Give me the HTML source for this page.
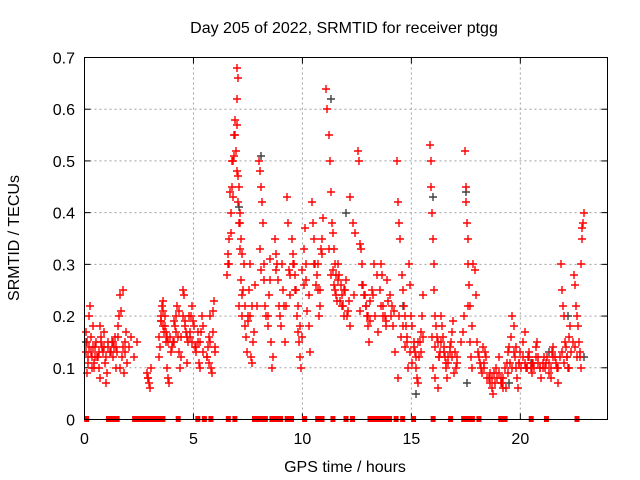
<!DOCTYPE html>
<html><head><meta charset="utf-8"><style>
body{margin:0;background:#fff}
svg{display:block;font-family:"Liberation Sans",sans-serif}
</style></head><body>
<svg id="chart" width="640" height="480" viewBox="0 0 640 480" xmlns="http://www.w3.org/2000/svg">
<rect width="640" height="480" fill="#fff"/>
<text x="344" y="33" font-size="16" text-anchor="middle">Day 205 of 2022, SRMTID for receiver ptgg</text>
<text transform="translate(19,238) rotate(-90)" font-size="16" text-anchor="middle">SRMTID / TECUs</text>
<text x="345" y="472" font-size="16" text-anchor="middle">GPS time / hours</text>
<g id="grid"></g>
<g id="ticks"></g>
<g id="marks"></g>
<rect x="84.5" y="57.5" width="523" height="362" fill="none" stroke="#000" stroke-width="1"/>
</svg>
<script>
const xTicks=[0,5,10,15,20];
const yTicks=[0,0.1,0.2,0.3,0.4,0.5,0.6,0.7];
const yTickLabels=["0","0.1","0.2","0.3","0.4","0.5","0.6","0.7"];
const redTimes=[
0.05,0.1,0.15,0.2,0.25,0.3,0.35,0.4,0.45,0.12,0.28,0.38,0.48,
0.55,0.6,0.65,0.7,0.75,0.8,0.85,0.9,0.95,1.0,1.05,1.1,1.15,0.72,
1.25,1.3,1.35,1.4,1.45,1.5,1.55,1.6,1.65,1.75,1.7,1.8,1.85,1.9,1.95,1.62,
2.05,2.15,2.25,2.4,
2.85,2.9,2.95,3.0,3.05,2.92,
3.4,3.45,3.5,3.55,3.6,3.65,3.7,3.75,3.8,3.85,3.9,3.95,3.5,3.62,3.78,
4.0,4.1,4.15,4.2,4.25,4.3,4.35,4.4,4.45,4.5,4.55,4.6,4.65,4.7,4.75,4.8,
4.85,4.9,4.95,5.0,5.05,5.1,5.2,5.25,5.3,5.35,5.4,5.45,
5.6,5.65,5.7,5.75,5.8,5.85,5.9,5.95,6.0,5.72,
6.55,6.6,6.65,6.7,6.75,6.8,6.85,6.9,6.95,7.0,7.05,7.1,7.15,7.2,7.25,6.62,6.72,6.82,6.88,6.98,7.02,7.05,7.0,7.08,7.12,7.18,7.22,7.28,7.3,7.1,
7.35,7.4,7.45,7.5,7.55,7.6,7.65,7.7,7.75,7.8,7.9,
8.0,8.05,8.1,8.15,8.2,8.25,8.3,8.35,8.4,8.45,8.5,8.55,8.6,8.65,8.05,
8.75,8.8,8.85,8.9,8.95,9.0,9.1,9.15,9.2,9.3,9.35,9.4,9.45,
9.5,9.55,9.6,9.65,9.7,9.75,9.8,9.85,9.9,9.95,10.0,10.05,10.1,10.15,10.2,10.3,10.35,
10.45,10.5,10.55,10.6,10.65,10.7,10.75,10.8,10.85,10.9,10.95,
11.1,11.15,11.2,11.25,11.3,11.35,11.4,11.45,11.5,11.55,11.45,11.5,11.6,
11.65,11.7,11.75,11.8,11.85,11.9,11.95,12.0,12.1,12.2,12.2,12.3,12.4,
12.55,12.6,12.65,12.7,12.75,12.8,12.85,12.9,12.95,13.0,13.05,13.1,13.2,13.3,13.4,13.45,
13.55,13.6,13.65,13.7,13.8,13.85,13.9,14.0,14.1,14.2,14.25,
14.35,14.4,14.45,14.5,14.55,14.6,14.65,14.7,14.75,14.8,14.85,14.4,14.9,14.95,
15.0,15.05,15.1,15.15,15.2,15.25,15.3,15.35,15.4,15.45,15.5,15.55,
15.85,15.88,15.9,15.95,16.0,16.02,16.05,16.1,16.15,16.2,16.25,16.0,16.1,16.2,16.3,15.95,
16.35,16.4,16.45,16.5,16.55,16.6,16.65,16.7,16.75,16.8,16.85,16.9,16.95,17.05,17.1,
17.45,17.5,17.52,17.55,17.6,17.62,17.65,17.7,17.4,17.35,17.3,17.75,17.8,
17.85,17.9,17.95,18.0,18.1,18.2,18.25,18.3,18.35,18.4,18.45,
18.55,18.6,18.7,18.75,18.8,18.9,19.0,19.1,19.15,19.2,19.3,19.4,19.45,
19.5,19.55,19.6,19.7,19.75,19.8,19.85,19.9,19.95,20.0,20.1,20.2,20.25,
20.35,20.4,20.5,20.55,20.6,20.7,20.75,20.8,20.9,20.95,
21.05,21.1,21.2,21.3,21.4,21.45,21.5,21.6,21.7,21.75,
21.85,21.9,21.95,22.0,22.05,22.1,22.15,22.2,22.25,22.3,
22.45,22.5,22.55,22.6,22.65,22.7,22.75,22.8,22.82,22.85,22.9,22.88,22.78,
0.08,0.18,0.22,0.33,0.42,0.5,0.58,0.68,0.78,0.88,0.98,1.08,1.2,1.33,1.43,1.53,1.68,1.78,1.88,
3.42,3.52,3.58,3.68,3.72,3.82,3.92,4.05,4.12,4.22,4.32,4.42,4.52,4.62,4.72,4.82,4.92,5.02,5.12,5.22,5.32,5.42,5.62,5.78,5.88,5.98,
6.58,6.68,6.78,6.92,7.03,7.14,7.24,7.38,7.48,7.58,7.68,7.82,8.12,8.22,8.42,8.52,8.78,8.92,9.05,9.25,9.42,9.58,9.68,9.78,9.88,9.98,10.08,10.18,10.28,10.52,10.62,10.72,10.82,10.92,
11.22,11.32,11.42,11.52,11.62,11.72,11.82,11.92,12.05,12.15,12.35,12.62,12.72,12.82,12.92,13.02,13.12,13.25,13.35,13.62,13.72,13.82,13.95,14.05,14.15,
14.42,14.52,14.62,14.72,14.82,14.92,15.02,15.12,15.22,15.32,15.42,15.52,16.08,16.18,16.28,16.38,16.48,16.58,16.68,16.78,16.88,16.98,17.08,17.58,17.68,17.78,
18.05,18.15,18.32,18.42,18.62,18.72,18.82,18.92,19.02,19.12,19.22,19.32,19.42,19.52,19.62,19.72,19.82,19.92,20.02,20.12,20.22,20.32,20.42,20.52,20.62,20.72,20.82,20.92,
21.02,21.12,21.22,21.32,21.42,21.52,21.62,21.72,21.82,21.92,22.02,22.12,22.22,22.32,22.42,22.52,22.62,22.72
];
const redValues=[
0.17,0.15,0.12,0.2,0.22,0.13,0.1,0.14,0.11,0.09,0.16,0.18,0.12,
0.15,0.12,0.1,0.08,0.16,0.14,0.13,0.17,0.11,0.07,0.09,0.15,0.13,0.18,
0.15,0.12,0.14,0.16,0.1,0.13,0.18,0.2,0.24,0.25,0.12,0.09,0.15,0.17,0.11,0.1,
0.14,0.16,0.12,0.15,
0.09,0.08,0.07,0.06,0.1,0.08,
0.12,0.14,0.2,0.22,0.23,0.17,0.18,0.15,0.1,0.08,0.07,0.13,0.19,0.21,0.16,
0.14,0.15,0.18,0.2,0.22,0.16,0.13,0.1,0.12,0.25,0.24,0.19,0.17,0.11,0.15,0.2,
0.16,0.2,0.22,0.19,0.14,0.13,0.15,0.11,0.1,0.17,0.2,0.18,
0.12,0.14,0.16,0.2,0.1,0.09,0.21,0.23,0.13,0.11,
0.28,0.3,0.35,0.4,0.45,0.5,0.55,0.58,0.52,0.48,0.42,0.38,0.33,0.27,0.24,0.3,0.36,0.43,0.51,0.62,0.68,0.66,0.57,0.45,0.4,0.35,0.2,0.25,0.3,0.22,
0.18,0.16,0.13,0.2,0.25,0.3,0.12,0.11,0.15,0.17,0.22,
0.5,0.48,0.45,0.42,0.38,0.3,0.22,0.2,0.18,0.24,0.27,0.15,0.1,0.12,0.33,
0.35,0.32,0.3,0.27,0.2,0.18,0.25,0.22,0.15,0.43,0.38,0.29,0.24,
0.35,0.32,0.3,0.28,0.25,0.2,0.17,0.15,0.12,0.1,0.29,0.33,0.37,0.27,0.21,0.18,0.13,
0.42,0.38,0.35,0.3,0.28,0.25,0.2,0.22,0.33,0.35,0.39,
0.64,0.6,0.55,0.5,0.44,0.38,0.36,0.33,0.3,0.28,0.26,0.25,0.23,
0.3,0.28,0.26,0.24,0.22,0.2,0.25,0.27,0.21,0.18,0.43,0.38,0.36,
0.52,0.5,0.34,0.33,0.3,0.26,0.24,0.22,0.2,0.18,0.15,0.23,0.25,0.3,0.28,0.17,
0.25,0.3,0.28,0.22,0.2,0.18,0.27,0.24,0.22,0.21,0.13,
0.5,0.42,0.38,0.35,0.28,0.25,0.22,0.2,0.18,0.15,0.1,0.08,0.3,0.26,
0.2,0.18,0.15,0.13,0.1,0.08,0.07,0.12,0.15,0.17,0.2,0.24,
0.53,0.5,0.45,0.4,0.35,0.3,0.25,0.2,0.18,0.15,0.12,0.1,0.08,0.06,0.13,0.16,
0.2,0.18,0.16,0.14,0.12,0.1,0.08,0.11,0.13,0.15,0.17,0.19,0.09,0.1,0.12,
0.52,0.45,0.42,0.38,0.35,0.3,0.26,0.22,0.2,0.17,0.15,0.12,0.1,
0.3,0.29,0.24,0.15,0.12,0.1,0.09,0.14,0.11,0.13,0.08,
0.08,0.07,0.06,0.05,0.09,0.1,0.12,0.08,0.07,0.06,0.1,0.11,0.13,
0.14,0.16,0.2,0.18,0.12,0.1,0.08,0.06,0.11,0.13,0.15,0.17,0.1,
0.12,0.13,0.1,0.09,0.11,0.14,0.15,0.12,0.1,0.08,
0.1,0.12,0.11,0.09,0.08,0.13,0.14,0.12,0.1,0.07,
0.3,0.25,0.22,0.2,0.15,0.14,0.12,0.1,0.16,0.18,
0.28,0.26,0.22,0.2,0.18,0.15,0.12,0.1,0.35,0.37,0.4,0.38,0.3,
0.13,0.11,0.14,0.12,0.1,0.14,0.12,0.13,0.15,0.14,0.12,0.14,0.13,0.15,0.14,0.16,0.21,0.14,0.13,
0.16,0.19,0.18,0.2,0.17,0.15,0.16,0.15,0.19,0.17,0.21,0.16,0.2,0.18,0.16,0.17,0.15,0.18,0.14,0.17,0.15,0.13,0.12,0.15,0.17,0.14,
0.32,0.44,0.5,0.55,0.47,0.38,0.32,0.22,0.19,0.2,0.22,0.26,0.29,0.27,0.2,0.31,0.29,0.22,0.3,0.22,0.28,0.3,0.25,0.22,0.18,0.16,0.26,0.3,0.24,0.3,0.26,0.3,0.25,0.32,
0.33,0.28,0.29,0.24,0.27,0.23,0.22,0.25,0.2,0.23,0.24,0.21,0.26,0.24,0.22,0.2,0.19,0.24,0.2,0.22,0.2,0.19,0.23,0.2,0.18,
0.2,0.16,0.18,0.14,0.16,0.13,0.11,0.14,0.12,0.15,0.13,0.16,0.14,0.16,0.12,0.15,0.13,0.11,0.12,0.14,0.12,0.13,0.11,0.22,0.15,0.18,
0.13,0.11,0.1,0.12,0.09,0.08,0.07,0.08,0.09,0.07,0.08,0.06,0.09,0.11,0.1,0.13,0.14,0.11,0.1,0.12,0.11,0.1,0.12,0.11,0.1,0.12,0.11,0.1,
0.11,0.1,0.12,0.11,0.1,0.12,0.11,0.1,0.12,0.13,0.11,0.12,0.1,0.13,0.15,0.14,0.12,0.13
];
const darkTimes=[0.05,7.1,8.1,11.3,12.0,15.2,16.0,17.5,17.55,19.5,20.3,20.5,21.3,22.2,22.9,14.6];
const darkValues=[0.15,0.41,0.51,0.62,0.4,0.05,0.43,0.44,0.07,0.07,0.1,0.11,0.13,0.2,0.12,0.22];
const zeroTimes=[0.1,1.1,1.3,1.5,1.45,2.3,2.5,2.7,2.9,3.1,3.2,3.4,3.6,4.3,5.2,5.5,5.8,6.6,6.9,7.8,8.0,8.2,8.3,8.6,8.8,9.0,9.3,9.5,10.1,10.7,10.9,11.4,12.0,12.3,13.1,13.3,13.5,13.7,13.9,14.0,14.3,14.6,15.1,16.0,16.8,17.4,17.6,17.8,18.1,19.1,19.3,20.5,21.2,22.6];

const X0=84.5,X1=607.5,Y0=419.5,Y1=57.5;
const xs=t=>X0+(t/24)*(X1-X0);
const ys=v=>Y0-(v/0.7)*(Y0-Y1);
const NS="http://www.w3.org/2000/svg";
const grid=document.getElementById('grid'),ticks=document.getElementById('ticks'),marks=document.getElementById('marks');
function mk(tag,attrs,parent){const e=document.createElementNS(NS,tag);for(const k in attrs)e.setAttribute(k,attrs[k]);parent.appendChild(e);return e;}
xTicks.forEach(t=>{
  const x=xs(t);
  if(t>0){const g=mk('line',{x1:x,x2:x,y1:Y0,y2:Y1,stroke:'#a0a0a0','stroke-dasharray':'2,3'},grid);
  
  }
  mk('line',{x1:x,x2:x,y1:Y0,y2:Y0-6,stroke:'#000'},ticks);
  mk('line',{x1:x,x2:x,y1:Y1,y2:Y1+6,stroke:'#000'},ticks);
  const l=mk('text',{x:x,y:444,'font-size':16,'text-anchor':'middle'},ticks);l.textContent=t;
  
  
});
yTicks.forEach((v,i)=>{
  const y=ys(v);
  if(i>0&&i<yTicks.length-1){const g=mk('line',{x1:X0,x2:X1,y1:y,y2:y,stroke:'#a0a0a0','stroke-dasharray':'2,3'},grid);
  
  }
  mk('line',{x1:X0,x2:X0+6,y1:y,y2:y,stroke:'#000'},ticks);
  mk('line',{x1:X1,x2:X1-6,y1:y,y2:y,stroke:'#000'},ticks);
  const l=mk('text',{x:75,y:y+6,'font-size':16,'text-anchor':'end'},ticks);l.textContent=yTickLabels[i];
  
  
});
function plus(t,v,color,name){
  const x=Math.round(xs(t)),y=Math.round(ys(v));
  const p=mk('path',{d:`M${x-4} ${y}H${x+4}M${x} ${y-4}V${y+4}`,stroke:color,'stroke-width':1.4,fill:'none'},marks);
  
  
}
darkTimes.forEach((t,i)=>plus(t,darkValues[i],'#404040','dark-point'));
redTimes.forEach((t,i)=>plus(t,redValues[i],'#ff0000','red-point'));
zeroTimes.forEach(t=>{
  const x=xs(t);
  const r=mk('rect',{x:x-2.5,y:Y0-3.5,width:5,height:6,fill:'#ff0000'},marks);
  
  
});
</script>
</body></html>
